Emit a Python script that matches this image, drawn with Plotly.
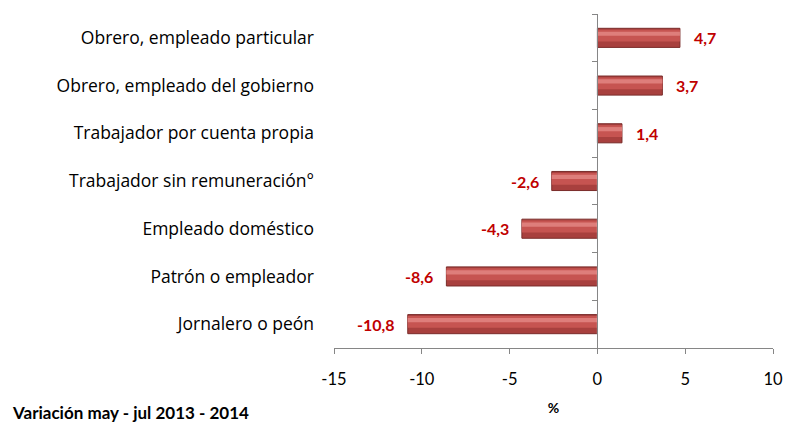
import plotly.graph_objects as go

categories = [
    "Obrero, empleado particular",
    "Obrero, empleado del gobierno",
    "Trabajador por cuenta propia",
    "Trabajador sin remuneración°",
    "Empleado doméstico",
    "Patrón o empleador",
    "Jornalero o peón",
]
values = [4.7, 3.7, 1.4, -2.6, -4.3, -8.6, -10.8]
x_ticks = [-15, -10, -5, 0, 5, 10]

labels = [f"{v:.1f}".replace(".", ",") for v in values]
FONT = "Lato, 'Open Sans', sans-serif"
CAT_FONT = "'Open Sans', Lato, sans-serif"
BAR_W = 0.40

fig = go.Figure()
# base bar (darker body)
fig.add_trace(go.Bar(
    y=categories, x=values, orientation="h", width=BAR_W,
    marker=dict(color="#A8403E", line=dict(color="#7A2C2A", width=1)),
    hoverinfo="skip", showlegend=False,
))
# mid tone
fig.add_trace(go.Bar(
    y=categories, x=values, orientation="h", width=BAR_W * 0.62, offset=-BAR_W / 2 + 0.03,
    marker=dict(color="#C65451", line=dict(width=0)),
    hoverinfo="skip", showlegend=False,
))
# highlight
fig.add_trace(go.Bar(
    y=categories, x=values, orientation="h", width=BAR_W * 0.22, offset=-BAR_W / 2 + 0.07,
    marker=dict(color="#DE7E7B", line=dict(width=0)),
    hoverinfo="skip", showlegend=False,
))
# invisible trace for the zero-crossing category axis
fig.add_trace(go.Bar(
    y=categories, x=[0] * len(categories), orientation="h", yaxis="y2",
    marker=dict(color="rgba(0,0,0,0)"), hoverinfo="skip", showlegend=False,
))

annotations = []
for cat, v, lab in zip(categories, values, labels):
    annotations.append(dict(
        x=v, y=cat, xref="x", yref="y", text=lab, showarrow=False,
        xanchor="left" if v >= 0 else "right", yanchor="middle",
        xshift=12 if v >= 0 else -11,
        font=dict(family=FONT, size=16, color="#C00000", weight="bold"),
    ))
annotations.append(dict(
    text="Variación may - jul 2013 - 2014", xref="paper", yref="paper",
    x=-324 / 439, y=(348 - 412) / 334, xanchor="left", yanchor="middle", showarrow=False,
    font=dict(family=FONT, size=17, weight="bold", color="#000"),
))

fig.update_layout(
    width=789, height=424,
    margin=dict(l=334, r=16, t=14, b=76, autoexpand=False),
    paper_bgcolor="white", plot_bgcolor="white",
    barmode="overlay",
    font=dict(family=FONT, color="#000000"),
    xaxis=dict(
        range=[x_ticks[0], x_ticks[-1]], tickvals=x_ticks,
        ticktext=[str(t) for t in x_ticks],
        ticks="outside", ticklen=5, tickcolor="#868686",
        showline=True, linecolor="#868686", linewidth=1,
        showgrid=False, zeroline=False, automargin=False,
        tickfont=dict(family=FONT, size=16.5, color="#000"),
        ticklabelstandoff=11,
        title=dict(text="%", font=dict(family=FONT, size=14, weight="bold"), standoff=15),
    ),
    yaxis=dict(
        type="category", categoryarray=categories, autorange="reversed",
        showline=False, showgrid=False, zeroline=False, ticks="", automargin=False,
        tickfont=dict(family=CAT_FONT, size=17.5, color="#000"),
        ticklabelstandoff=19,
    ),
    yaxis2=dict(
        type="category", categoryarray=categories, autorange="reversed",
        overlaying="y", anchor="free", position=0.6, side="left",
        showline=True, linecolor="#868686", linewidth=1, automargin=False,
        ticks="outside", tickson="boundaries", ticklen=5, tickcolor="#868686",
        showticklabels=False, showgrid=False, zeroline=False,
    ),
    annotations=annotations,
)

fig.write_html(
    "out.html",
    config={"displayModeBar": False},
    post_script="document.body.style.margin='0';document.body.style.padding='0';",
)
